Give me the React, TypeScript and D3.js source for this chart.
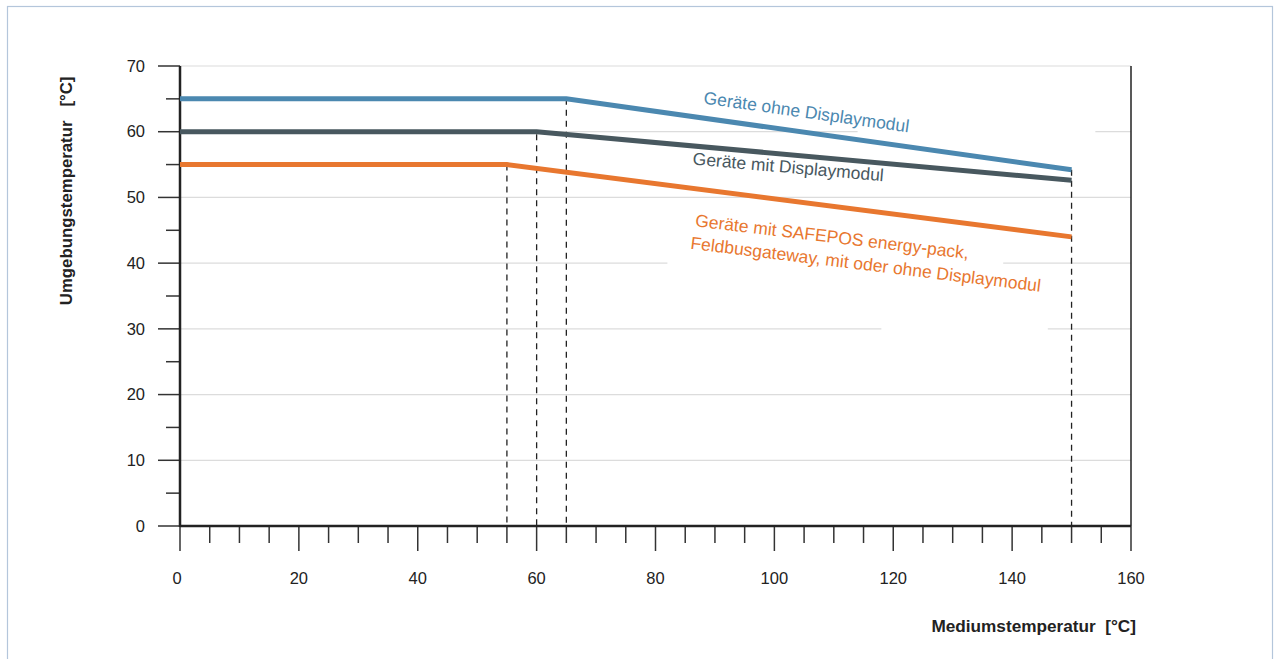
import React, { useEffect, useRef } from 'react';
import * as d3 from 'd3';

// Mediumstemperatur breakpoints [°C]
const xBlue = [0, 65, 150];
const yBlue = [65, 65, 54.2];
const xDark = [0, 60, 150];
const yDark = [60, 60, 52.6];
const xOrange = [0, 55, 150];
const yOrange = [55, 55, 44];

const xTicks = [0, 20, 40, 60, 80, 100, 120, 140, 160];
const yTicks = [0, 10, 20, 30, 40, 50, 60, 70];
const dashedAt = [55, 60, 65, 150];

// gaps in grid lines behind the labels (x range in data units)
const gridGaps: { y: number; from: number; to: number }[] = [
  { y: 60, from: 114, to: 154 },
  { y: 40, from: 82, to: 138.5 },
  { y: 30, from: 118, to: 146 },
];

const BLUE = '#4b88b0';
const DARK = '#48585f';
const ORANGE = '#e8772f';

function App() {
  const svgRef = useRef<SVGSVGElement>(null);

  useEffect(() => {
    const svg = d3.select(svgRef.current);
    svg.selectAll('*').remove();

    const x = d3.scaleLinear().domain([0, 160]).range([180, 1131]);
    const y = d3.scaleLinear().domain([0, 70]).range([526, 66]);
    const font = 'Liberation Sans, Arial, sans-serif';

    // frame
    svg.append('rect')
      .attr('x', 7.5).attr('y', 6.5).attr('width', 1265).attr('height', 670)
      .attr('fill', 'none').attr('stroke', '#b4c6db').attr('stroke-width', 1.2);

    // grid
    yTicks.filter(d => d > 0).forEach(t => {
      const gap = gridGaps.find(g => g.y === t);
      const segs = gap ? [[0, gap.from], [gap.to, 160]] : [[0, 160]];
      segs.forEach(s => {
        svg.append('line')
          .attr('x1', x(s[0])).attr('x2', x(s[1]))
          .attr('y1', y(t)).attr('y2', y(t))
          .attr('stroke', '#dcdcdc').attr('stroke-width', 1.2);
      });
    });

    // y ticks
    d3.range(0, 71, 5).forEach(t => {
      const major = t % 10 === 0;
      svg.append('line')
        .attr('x1', major ? 158 : 166).attr('x2', x(0))
        .attr('y1', y(t)).attr('y2', y(t))
        .attr('stroke', '#333').attr('stroke-width', 1.5);
    });
    svg.append('g').selectAll('text').data(yTicks).enter().append('text')
      .attr('x', 145).attr('y', d => y(d)).attr('dy', '0.35em')
      .attr('text-anchor', 'end').attr('font-family', font).attr('font-size', 16.5)
      .attr('fill', '#222').text(d => d);

    // x ticks
    d3.range(0, 161, 5).forEach(t => {
      const major = t % 20 === 0;
      svg.append('line')
        .attr('x1', x(t)).attr('x2', x(t))
        .attr('y1', y(0)).attr('y2', major ? 551 : 543)
        .attr('stroke', '#333').attr('stroke-width', 1.5);
    });
    svg.append('g').selectAll('text').data(xTicks).enter().append('text')
      .attr('x', d => x(d) - (d === 0 ? 3 : 0)).attr('y', 578).attr('dy', '0.35em')
      .attr('text-anchor', 'middle').attr('font-family', font).attr('font-size', 16.5)
      .attr('fill', '#222').text(d => d);

    // axes
    svg.append('line')
      .attr('x1', x(0)).attr('x2', x(0)).attr('y1', y(70)).attr('y2', y(0) + 1)
      .attr('stroke', '#222').attr('stroke-width', 2.5);
    svg.append('line')
      .attr('x1', x(160)).attr('x2', x(160)).attr('y1', y(70)).attr('y2', y(0))
      .attr('stroke', '#222').attr('stroke-width', 1.5);
    svg.append('line')
      .attr('x1', x(0)).attr('x2', x(160)).attr('y1', y(0)).attr('y2', y(0))
      .attr('stroke', '#222').attr('stroke-width', 2.5);

    // dashed drop lines
    const topAt = (v: number) => {
      if (v === 55) return yOrange[1];
      if (v === 60) return yDark[1] - 0.4;
      if (v === 65) return yBlue[1];
      return yBlue[2];
    };
    dashedAt.forEach(v => {
      svg.append('line')
        .attr('x1', x(v)).attr('x2', x(v))
        .attr('y1', y(topAt(v))).attr('y2', y(0))
        .attr('stroke', '#222').attr('stroke-width', 1.3)
        .attr('stroke-dasharray', '6,5');
    });

    // series
    const line = d3.line<[number, number]>().x(d => x(d[0])).y(d => y(d[1]));
    const series = [
      { xs: xOrange, ys: yOrange, c: ORANGE },
      { xs: xDark, ys: yDark, c: DARK },
      { xs: xBlue, ys: yBlue, c: BLUE },
    ];
    series.forEach(s => {
      svg.append('path')
        .attr('d', line(s.xs.map((v, i) => [v, s.ys[i]] as [number, number])))
        .attr('fill', 'none').attr('stroke', s.c).attr('stroke-width', 5);
    });

    // labels
    const label = (txt: string, px: number, py: number, rot: number, color: string) => {
      svg.append('text')
        .attr('transform', `translate(${x(px)},${y(py)}) rotate(${rot})`)
        .attr('font-family', font).attr('font-size', 17.5).attr('fill', color)
        .text(txt);
    };
    label('Geräte ohne Displaymodul', 88, 64.3, 8, BLUE);
    label('Geräte mit Displaymodul', 86.2, 55.0, 5, DARK);
    label('Geräte mit SAFEPOS energy-pack,', 86.6, 45.6, 6.8, ORANGE);
    label('Feldbusgateway, mit oder ohne Displaymodul', 85.8, 42.2, 7, ORANGE);

    // axis titles
    svg.append('text')
      .attr('transform', `translate(72,${y(51)}) rotate(-90)`)
      .attr('text-anchor', 'middle').attr('font-family', font)
      .attr('font-size', 16.8).attr('font-weight', 'bold').attr('fill', '#222')
      .style('white-space', 'pre')
      .text('Umgebungstemperatur   [°C]');
    svg.append('text')
      .attr('x', 1136).attr('y', 632)
      .attr('text-anchor', 'end').attr('font-family', font)
      .attr('font-size', 17.2).attr('font-weight', 'bold').attr('fill', '#222')
      .style('white-space', 'pre')
      .text('Mediumstemperatur  [°C]');
  }, []);

  return (
    <svg ref={svgRef} width={1274} height={659}
      style={{ position: 'absolute', left: 0, top: 0, background: '#fff' }} />
  );
}

export default App;
